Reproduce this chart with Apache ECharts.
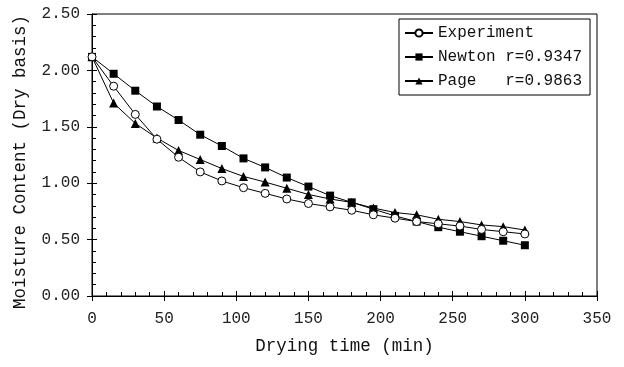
<!DOCTYPE html>
<html>
<head>
<meta charset="utf-8">
<script src="https://cdn.jsdelivr.net/npm/echarts@6/dist/echarts.min.js"></script>
<style>
  html, body {margin: 0; padding: 0; background: #fff;}
  #chart {width: 624px; height: 367px;}
</style>
</head>
<body>
<div id="chart"></div>
<script>
const times = [0, 15, 30, 45, 60, 75, 90, 105, 120, 135, 150, 165, 180, 195, 210, 225, 240, 255, 270, 285, 300];
const experiment = [2.12, 1.86, 1.61, 1.39, 1.23, 1.10, 1.02, 0.96, 0.91, 0.86, 0.82, 0.79, 0.76, 0.72, 0.69, 0.66, 0.64, 0.62, 0.59, 0.57, 0.55];
const newton = [2.12, 1.97, 1.82, 1.68, 1.56, 1.43, 1.33, 1.22, 1.14, 1.05, 0.97, 0.89, 0.83, 0.77, 0.71, 0.66, 0.61, 0.57, 0.53, 0.49, 0.45];
const page = [2.12, 1.71, 1.53, 1.40, 1.29, 1.21, 1.13, 1.06, 1.01, 0.955, 0.90, 0.86, 0.83, 0.78, 0.74, 0.72, 0.68, 0.66, 0.63, 0.615, 0.585];
const names = ['Experiment', 'Newton r=0.9347', 'Page   r=0.9863'];

const font = 'Liberation Mono';
const pair = arr => arr.map((v, i) => [times[i], v]);

const baseLine = {show: true, lineStyle: {color: '#000', width: 1}};

const chart = echarts.init(document.getElementById('chart'));
chart.setOption({
  animation: false,
  backgroundColor: '#fff',
  grid: {left: 92, right: 27, top: 14, bottom: 71, show: true, borderColor: '#000', borderWidth: 1},
  legend: {
    data: names,
    orient: 'vertical',
    left: 399, top: 19,
    padding: [6, 8, 6, 5],
    itemWidth: 28, itemHeight: 9, itemGap: 8,
    borderColor: '#000', borderWidth: 1, backgroundColor: '#fff',
    textStyle: {fontFamily: font, fontSize: 16, color: '#111'}
  },
  xAxis: [{
    type: 'value', min: 0, max: 350, interval: 50, position: 'bottom',
    name: 'Drying time (min)', nameLocation: 'middle', nameGap: 41,
    nameTextStyle: {fontFamily: font, fontSize: 17.5, color: '#111'},
    axisLine: baseLine,
    axisTick: {show: true, inside: false, length: 5, lineStyle: {color: '#000'}},
    axisLabel: {fontFamily: font, fontSize: 16, color: '#222', margin: 15},
    splitLine: {show: false}
  }, {
    type: 'value', min: 0, max: 350, interval: 50, position: 'bottom',
    axisLine: baseLine,
    axisTick: {show: true, inside: true, length: 5, lineStyle: {color: '#000'}},
    minorTick: {show: true, splitNumber: 5, length: 4, lineStyle: {color: '#000'}},
    axisLabel: {show: false},
    splitLine: {show: false}
  }],
  yAxis: [{
    type: 'value', min: 0, max: 2.5, interval: 0.5, position: 'left',
    name: 'Moisture Content (Dry basis)', nameLocation: 'middle', nameGap: 63,
    nameTextStyle: {fontFamily: font, fontSize: 17.5, color: '#111', padding: [0, 14, 0, 0]},
    axisLine: baseLine,
    axisTick: {show: true, inside: false, length: 5, lineStyle: {color: '#000'}},
    axisLabel: {fontFamily: font, fontSize: 16, color: '#222', margin: 12, formatter: v => v.toFixed(2)},
    splitLine: {show: false}
  }, {
    type: 'value', min: 0, max: 2.5, interval: 0.5, position: 'left',
    axisLine: baseLine,
    axisTick: {show: true, inside: true, length: 5, lineStyle: {color: '#000'}},
    minorTick: {show: true, splitNumber: 5, length: 4, lineStyle: {color: '#000'}},
    axisLabel: {show: false},
    splitLine: {show: false}
  }],
  series: [{
    name: names[0], type: 'line', data: pair(experiment),
    symbol: 'circle', symbolSize: 8,
    itemStyle: {color: '#fff', borderColor: '#000', borderWidth: 1},
    lineStyle: {color: '#000', width: 1}, z: 4
  }, {
    name: names[1], type: 'line', data: pair(newton),
    symbol: 'rect', symbolSize: 8,
    itemStyle: {color: '#000'},
    lineStyle: {color: '#000', width: 1}, z: 3
  }, {
    name: names[2], type: 'line', data: pair(page),
    symbol: 'triangle', symbolSize: 9,
    itemStyle: {color: '#000'},
    lineStyle: {color: '#000', width: 1}, z: 3
  }]
});
</script>
</body>
</html>
